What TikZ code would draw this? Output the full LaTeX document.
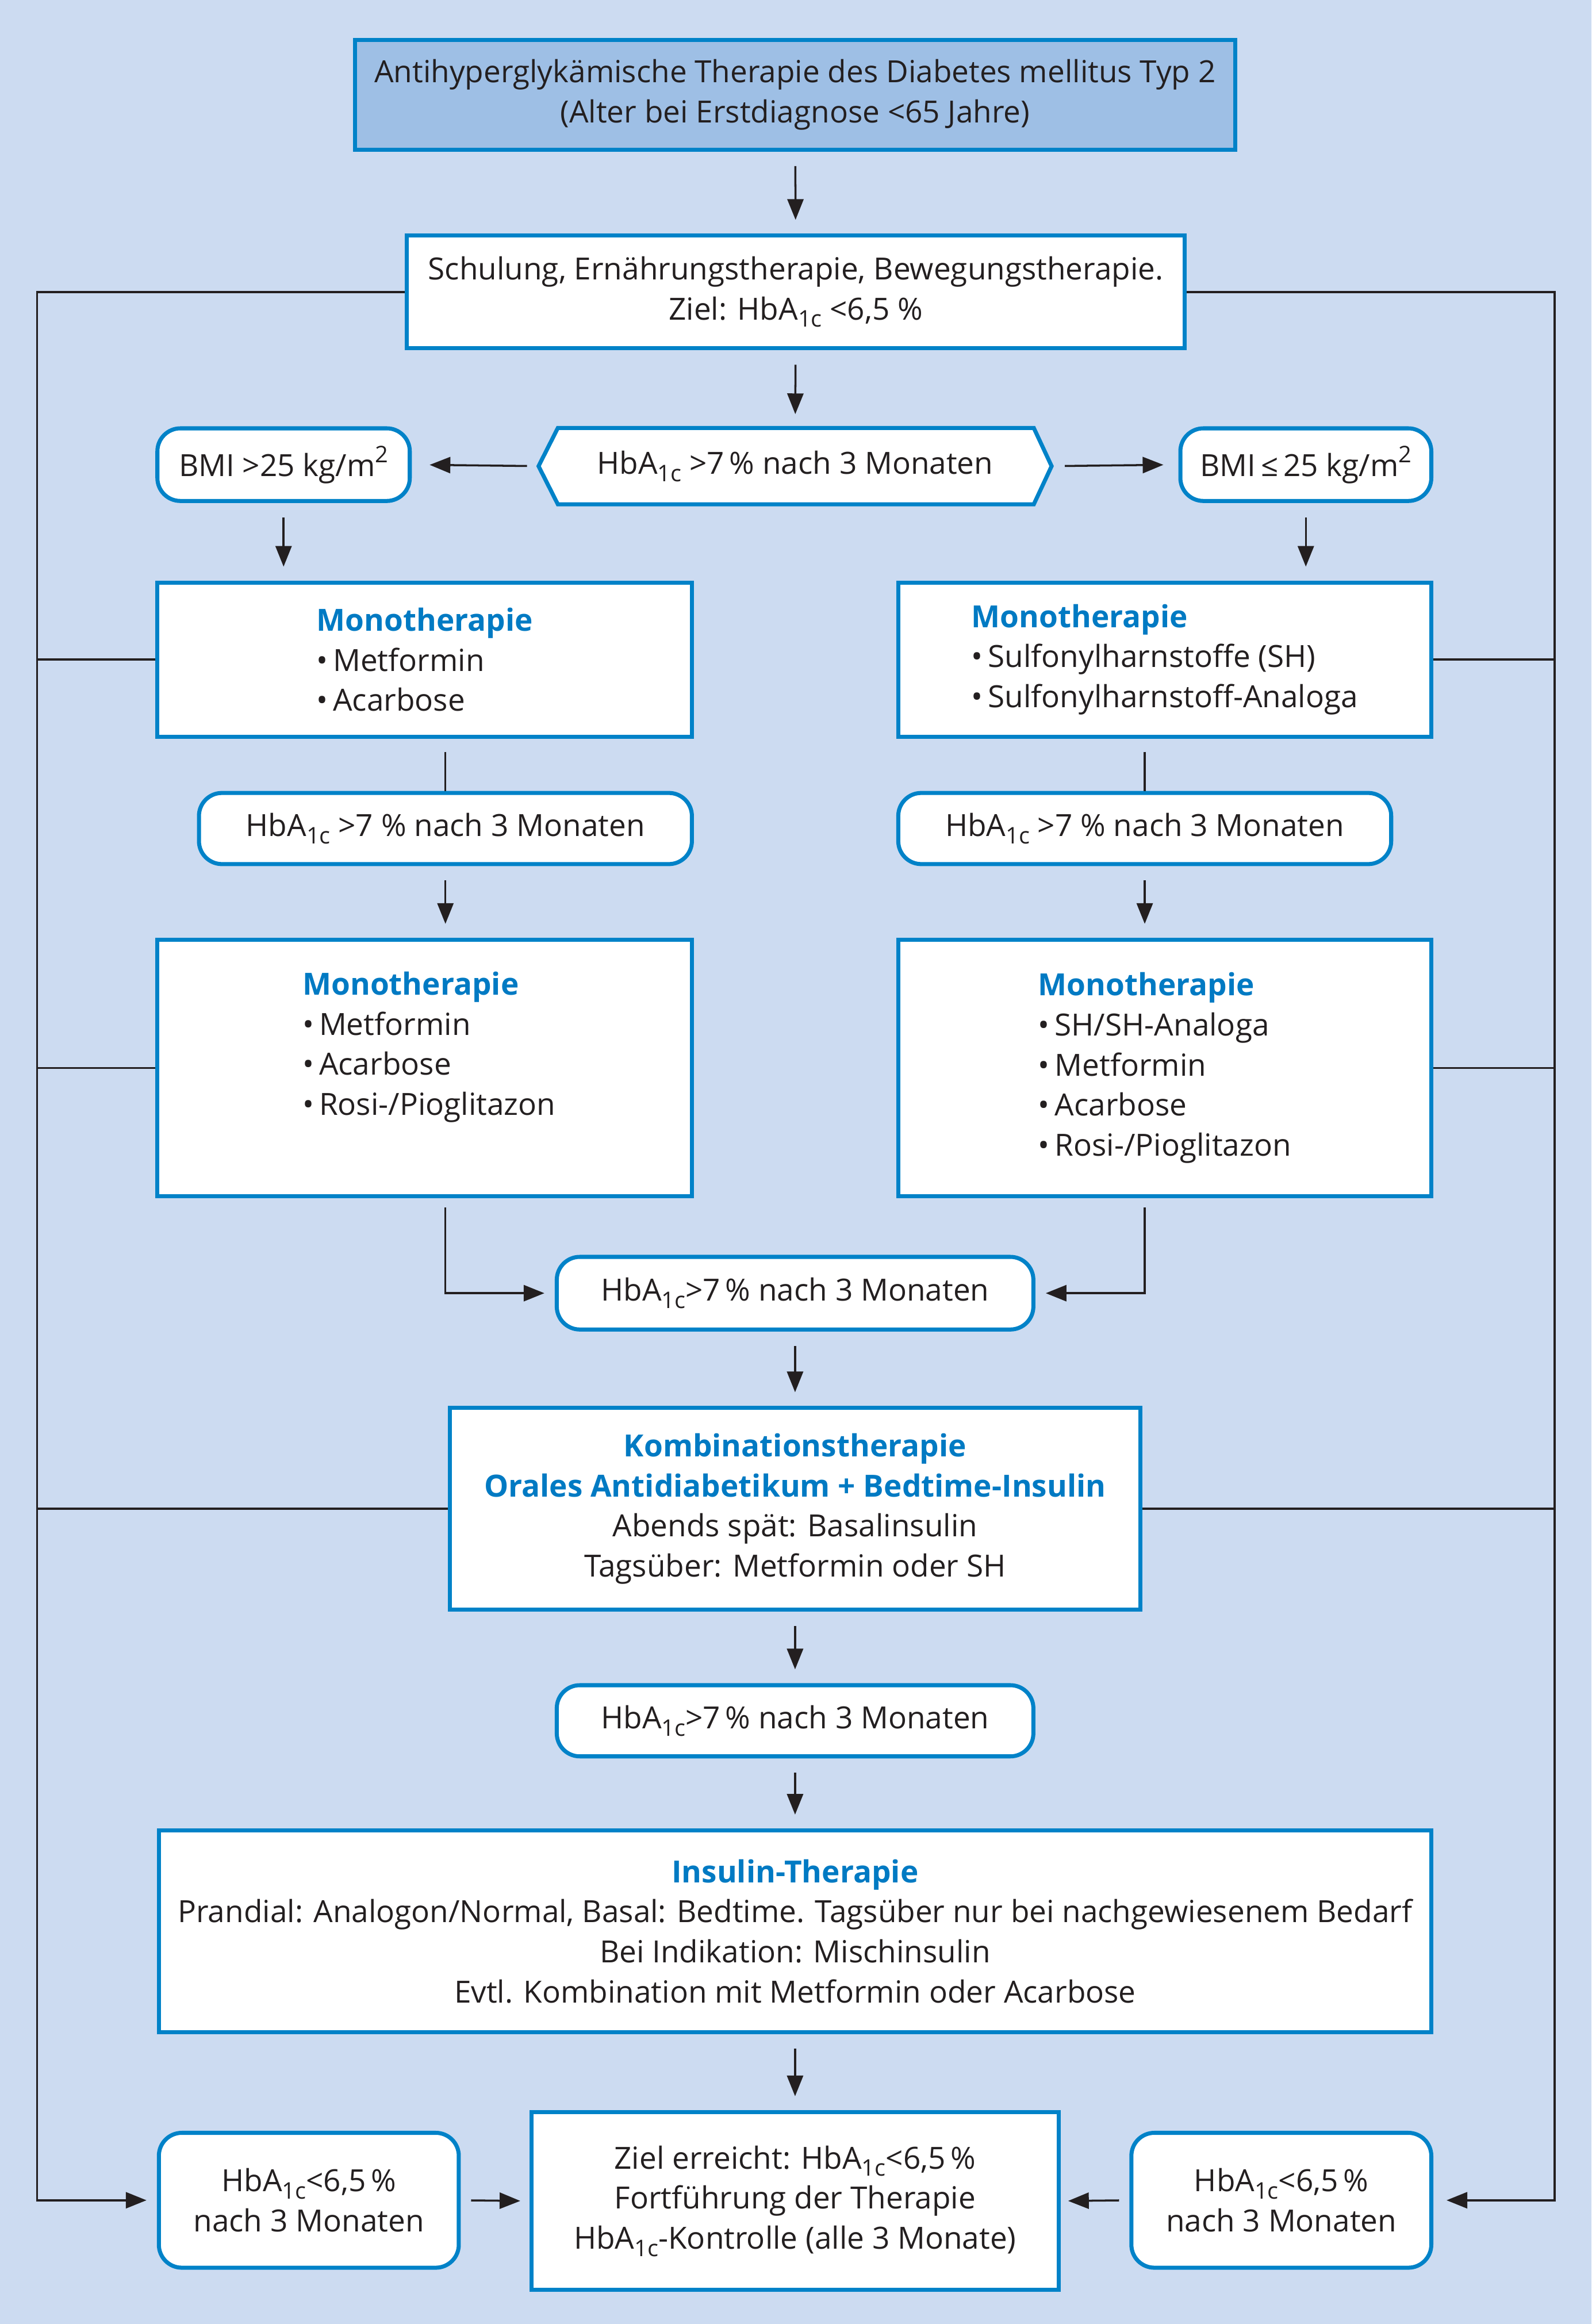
\documentclass[tikz,border=0pt]{standalone}
\usepackage{fontspec}
\setmainfont{Open Sans}
\usepackage{graphicx}
\usetikzlibrary{arrows.meta,calc}
\definecolor{bg}{RGB}{204,219,241}
\definecolor{titlefill}{RGB}{158,191,229}
\definecolor{bblue}{RGB}{0,130,200}
\definecolor{hblue}{RGB}{0,122,195}
\definecolor{ink}{RGB}{35,31,32}
\newcommand{\bodyfont}{\fontsize{15.1}{19.8}\selectfont}
\newcommand{\hba}{HbA\raisebox{-0.45ex}{\scalebox{0.75}{1c}}}
\newcommand{\sqm}{m\raisebox{0.85ex}{\scalebox{0.75}{2}}}
\newcommand{\hd}[1]{{\bfseries\color{hblue}#1}}
\begin{document}
\begin{tikzpicture}[x=0.025812cm,y=-0.025778cm,
  rect/.style args={#1/#2/#3/#4}{minimum width={(#3-#1)*0.025812cm},
     minimum height={(#4-#2)*0.025778cm}, at={({(#1+#3)/2},{(#2+#4)/2})}},
  bord/.style={draw=bblue, line width=2pt, fill=white},
  box/.style={bord, inner sep=0pt, align=center, font=\bodyfont, text=ink},
  rbox/.style={box, rounded corners=0.4cm},
  txt/.style={inner sep=0pt, font=\bodyfont, text=ink},
  conn/.style={draw=ink, line width=1pt},
  arr/.style={conn, -{Triangle[length=0.36cm,width=0.28cm]}, shorten <=0.25cm, shorten >=0.24cm},
  ]
\useasboundingbox (0,0) rectangle (1072,1568);
\fill[bg] (0,0) rectangle (1072,1568);

% nodes
\node[box, fill=titlefill, rect=239/27/832/101] (title)
  {Antihyperglykämische Therapie des Diabetes mellitus Typ 2\\(Alter bei Erstdiagnose <65 Jahre)};
\node[box, rect=274/159/798/235] (schul)
  {Schulung, Ernährungstherapie, Bewegungstherapie.\\Ziel: \hba\ <6,5 \%};

\node[inner sep=0pt, rect=363/289/708/340] (hex) {};
\filldraw[bord] ($(hex.north west)+(13,0)$) -- ($(hex.north east)+(-12,0)$) -- (hex.east)
  -- ($(hex.south east)+(-12,0)$) -- ($(hex.south west)+(13,0)$) -- (hex.west) -- cycle;
\node[txt] (hext) at (hex.center) {\hba\ >7\,\% nach 3 Monaten};

\node[rbox, rect=106/289/276/338] (bmi1) {BMI >25 kg/\sqm};
\node[rbox, rect=795/289/964/338] (bmi2) {BMI\,≤\,25 kg/\sqm};

\node[box, rect=106/393/466/497, align=left] (mono1)
  {\hd{Monotherapie}\\\textbullet\,Metformin\\\textbullet\,Acarbose};
\node[box, rect=605/393/964/497, align=left] (mono2)
  {\hd{Monotherapie}\\\textbullet\,Sulfonylharnstoffe (SH)\\\textbullet\,Sulfonylharnstoff-Analoga};

\node[rbox, rect=134/535/466/583] (hba1) {\hba\ >7 \% nach 3 Monaten};
\node[rbox, rect=605/535/937/583] (hba2) {\hba\ >7 \% nach 3 Monaten};

\node[box, rect=106/634/466/807] (mono3) {};
\node[txt, align=left] (mono3t) at ($(mono3.center)+(3,-14)$)
  {\hd{Monotherapie}\\\textbullet\,Metformin\\\textbullet\,Acarbose\\\textbullet\,Rosi-/Pioglitazon};
\node[box, rect=605/634/964/807, align=left] (mono4)
  {\hd{Monotherapie}\\\textbullet\,SH/SH-Analoga\\\textbullet\,Metformin\\\textbullet\,Acarbose\\\textbullet\,Rosi-/Pioglitazon};

\node[rbox, rect=375/848/696/897] (hba3) {\hba>7\,\% nach 3 Monaten};

\node[box, rect=303/950/768/1086] (kombi)
  {\hd{Kombinationstherapie}\\\hd{Orales Antidiabetikum + Bedtime-Insulin}\\Abends spät: Basalinsulin\\Tagsüber: Metformin oder SH};

\node[rbox, rect=375/1137/696/1185] (hba4) {\hba>7\,\% nach 3 Monaten};

\node[box, rect=107/1235/964/1371] (ins)
  {\hd{Insulin-Therapie}\\Prandial: Analogon/Normal, Basal: Bedtime. Tagsüber nur bei nachgewiesenem Bedarf\\Bei Indikation: Mischinsulin\\Evtl. Kombination mit Metformin oder Acarbose};

\node[box, rect=358/1425/713/1545] (ziel)
  {Ziel erreicht: \hba<6,5\,\%\\Fortführung der Therapie\\\hba-Kontrolle (alle 3 Monate)};
\node[rbox, rect=107/1439/309/1530] (ls) {\hba<6,5\,\%\\nach 3 Monaten};
\node[rbox, rect=762/1439/964/1530] (rs) {\hba<6,5\,\%\\nach 3 Monaten};

% side rails
\coordinate (L) at (25,0);
\coordinate (R) at (1047,0);

% connectors
\draw[arr] (title) -- (schul);
\draw[arr] (schul) -- (hex);
\draw[arr, shorten <=0.2cm, shorten >=0.31cm] (hex.west) -- (bmi1.east);
\draw[arr, shorten <=0.23cm, shorten >=0.26cm] (hex.east) -- (bmi2.west);
\draw[arr] (bmi1.south) -- (bmi1.south |- mono1.north);
\draw[arr] (bmi2.south) -- (bmi2.south |- mono2.north);
\draw[conn, shorten <=0.23cm] (hba1.north |- mono1.south) -- (hba1.north);
\draw[conn, shorten <=0.23cm] (hba2.north |- mono2.south) -- (hba2.north);
\draw[arr] (hba1.south) -- (hba1.south |- mono3.north);
\draw[arr] (hba2.south) -- (hba2.south |- mono4.north);
\draw[arr, shorten <=0.16cm, shorten >=0.18cm] (hba1.south |- mono3.south) |- (hba3.west);
\draw[arr, shorten <=0.16cm, shorten >=0.18cm] (hba2.south |- mono4.south) |- (hba3.east);
\draw[arr] (hba3) -- (kombi);
\draw[arr] (kombi) -- (hba4);
\draw[arr] (hba4) -- (ins);
\draw[arr] (ins) -- (ziel);
\draw[arr, shorten <=0.18cm, shorten >=0.16cm] (ls.east) -- (ziel.west);
\draw[arr, shorten <=0.18cm, shorten >=0.13cm] (rs.west) -- (ziel.east);

\draw[conn, -{Triangle[length=0.36cm,width=0.28cm]}, shorten >=0.18cm]
  (schul.west) -- (schul.west -| L) |- (ls.west);
\draw[conn] (mono1.west) -- (mono1.west -| L);
\draw[conn] (mono3.west) -- (mono3.west -| L);
\draw[conn] (kombi.west) -- (kombi.west -| L);
\draw[conn, -{Triangle[length=0.36cm,width=0.28cm]}, shorten >=0.23cm]
  (schul.east) -- (schul.east -| R) |- (rs.east);
\draw[conn] (mono2.east) -- (mono2.east -| R);
\draw[conn] (mono4.east) -- (mono4.east -| R);
\draw[conn] (kombi.east) -- (kombi.east -| R);
\end{tikzpicture}
\end{document}
